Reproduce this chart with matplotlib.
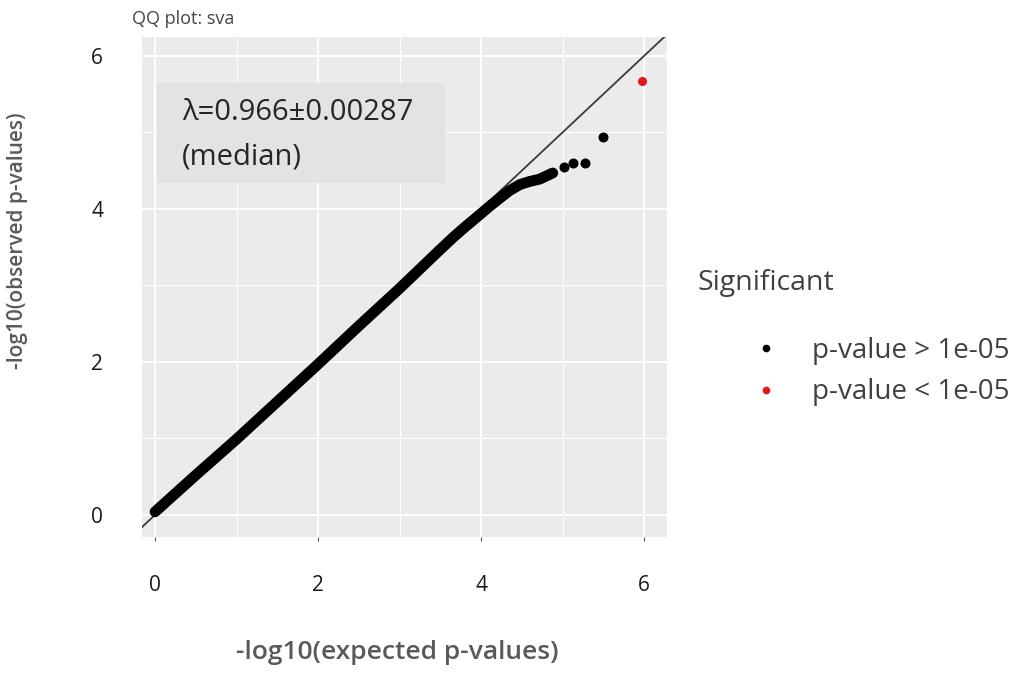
#QQ plot de p-valores (sva)
import matplotlib.pyplot as plt
from matplotlib.lines import Line2D
from matplotlib.patches import Rectangle

#Datos leidos del grafico
#banda densa de puntos (se dibuja como linea gruesa)
band_exp = [0.0, 0.5, 1.0, 1.5, 2.0, 2.5, 3.0, 3.5, 3.66, 3.8, 3.99, 4.1, 4.23, 4.35, 4.48, 4.6, 4.72, 4.88]
band_obs = [0.04, 0.52, 0.99, 1.48, 1.97, 2.47, 2.96, 3.47, 3.63, 3.76, 3.93, 4.03, 4.14, 4.24, 4.32, 4.36, 4.39, 4.47]
#puntos sueltos de la cola
tail_exp = [5.02, 5.13, 5.28, 5.50]
tail_obs = [4.55, 4.60, 4.60, 4.94]
#punto significativo
sig_exp = [5.97]
sig_obs = [5.67]

ticks = [0, 2, 4, 6]
lambda_txt = "λ=0.966±0.00287"
legend_labels = ["p-value > 1e-05", "p-value < 1e-05"]

plt.rcParams['font.family'] = ['Open Sans', 'DejaVu Sans']

fig = plt.figure(figsize=(10.33, 6.75), dpi=100)
ax = fig.add_axes([0.1375, 0.2044, 0.508, 0.741])
ax.set_facecolor('#ebebeb')
for s in ax.spines.values():
    s.set_visible(False)

ax.set_xlim(-0.16, 6.28)
ax.set_ylim(-0.29, 6.25)
ax.set_xticks(ticks)
ax.set_yticks(ticks)
ax.set_xticks([1, 3, 5], minor=True)
ax.set_yticks([1, 3, 5], minor=True)
ax.grid(True, which='major', color='white', lw=1.4)
ax.grid(True, which='minor', color='white', lw=0.7)
ax.set_axisbelow(True)
ax.tick_params(axis='both', which='minor', length=0)
ax.tick_params(axis='x', which='major', length=3, color='#555555', labelsize=15,
               pad=24, labelcolor='#1a1a1a')
ax.tick_params(axis='y', which='major', length=0, labelsize=15, pad=28,
               labelcolor='#1a1a1a')

# recta y = x
ax.axline((0, 0), slope=1, color='#3a3a3a', lw=1.3, zorder=2)

# puntos
ax.plot(band_exp, band_obs, color='black', lw=7.8, solid_capstyle='round',
        solid_joinstyle='round', zorder=3)
ax.plot(tail_exp, tail_obs, 'o', color='black', ms=7.2, mew=0, zorder=3)
ax.plot(sig_exp, sig_obs, 'o', color='#e8141b', ms=6.5, mew=0, zorder=3)

# caja con lambda
ax.add_patch(Rectangle((0.029, 0.708), 0.549, 0.2, transform=ax.transAxes,
                       facecolor='#e3e3e3', edgecolor='none', zorder=1))
ax.text(0.076, 0.848, lambda_txt, transform=ax.transAxes, fontsize=21,
        va='center', ha='left', color='#262626')
ax.text(0.076, 0.760, "(median)", transform=ax.transAxes, fontsize=21,
        va='center', ha='left', color='#262626')

# textos
fig.text(0.128, 0.972, "QQ plot: sva", fontsize=13, color='#444444', va='center')
fig.text(0.385, 0.034, "-log10(expected p-values)", fontsize=19, color='#595959',
         fontweight='semibold', ha='center', va='center')
fig.text(0.017, 0.643, "-log10(observed p-values)", fontsize=15, color='#595959',
         fontweight='semibold', rotation=90, ha='center', va='center')

# leyenda
fig.text(0.675, 0.581, "Significant", fontsize=20.5, color='#404040', va='center')
handles = [Line2D([], [], ls='none', marker='o', color='black', ms=5.5, mew=0),
           Line2D([], [], ls='none', marker='o', color='#e8141b', ms=5.5, mew=0)]
fig.legend(handles, legend_labels, loc='upper left', bbox_to_anchor=(0.7214, 0.522),
           frameon=False, fontsize=20, labelcolor='#404040', handlelength=0.5,
           handletextpad=1.4, labelspacing=0.5, borderpad=0)

fig.savefig("out.png", dpi=100)
